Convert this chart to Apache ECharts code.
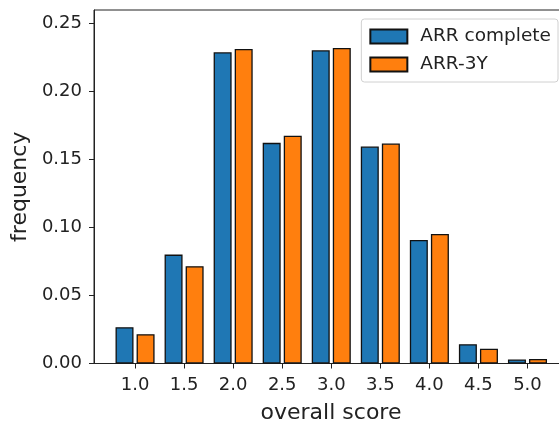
<!DOCTYPE html>
<html>
<head>
<meta charset="utf-8">
<script src="https://cdn.jsdelivr.net/npm/echarts@6/dist/echarts.min.js"></script>
<style>
html, body { margin: 0; padding: 0; background: #fff; overflow: hidden; }
#chart { width: 568px; height: 421px; }
</style>
</head>
<body>
<div id="chart"></div>
<script>
// overall score categories
var scores = [1.0, 1.5, 2.0, 2.5, 3.0, 3.5, 4.0, 4.5, 5.0];
var arrComplete = [0.0267, 0.0801, 0.2289, 0.1623, 0.2304, 0.1596, 0.0909, 0.0142, 0.0029];
var arr3Y = [0.0216, 0.0716, 0.2314, 0.1676, 0.2321, 0.1618, 0.0953, 0.0108, 0.0034];
var xTicks = [1.0, 1.5, 2.0, 2.5, 3.0, 3.5, 4.0, 4.5, 5.0];

var font = 'DejaVu Sans';

function pairs(vals) {
    return scores.map(function (s, i) { return [s, vals[i]]; });
}

var chart = echarts.init(document.getElementById('chart'));

var option = {
    animation: false,
    grid: {
        left: 94,
        right: 0,
        top: 10,
        bottom: 57.5,
        outerBoundsMode: 'none',
        containLabel: false,
        show: true,
        borderColor: '#222',
        borderWidth: 1
    },
    legend: {
        orient: 'vertical',
        right: 10,
        top: 19,
        icon: 'rect',
        itemWidth: 37,
        itemHeight: 14,
        itemGap: 9,
        padding: [8, 7, 8, 8],
        backgroundColor: 'rgba(255,255,255,0.8)',
        borderColor: '#d0d0d0',
        borderWidth: 1,
        borderRadius: 3,
        textStyle: { fontFamily: font, fontSize: 18.5, color: '#222', padding: [0, 0, 0, 8] },
        data: ['ARR complete', 'ARR-3Y']
    },
    xAxis: {
        type: 'value',
        min: 0.5816,
        max: 5.413,
        name: 'overall score',
        nameLocation: 'middle',
        nameGap: 39,
        nameTextStyle: { fontFamily: font, fontSize: 22, color: '#222' },
        splitLine: { show: false },
        axisLine: { show: true, lineStyle: { color: '#222' } },
        axisTick: { show: true, length: 5, customValues: xTicks, lineStyle: { color: '#222' } },
        axisLabel: {
            customValues: xTicks,
            margin: 13,
            fontFamily: font, fontSize: 18, color: '#222',
            formatter: function (v) { return v.toFixed(1); }
        }
    },
    yAxis: {
        type: 'value',
        min: 0,
        max: 0.26,
        interval: 0.05,
        name: 'frequency',
        nameLocation: 'middle',
        nameGap: 62,
        nameTextStyle: { fontFamily: font, fontSize: 22, color: '#222' },
        splitLine: { show: false },
        axisLine: { show: true, lineStyle: { color: '#222' } },
        axisTick: { show: true, length: 5, lineStyle: { color: '#222' } },
        axisLabel: {
            margin: 12,
            fontFamily: font, fontSize: 18, color: '#222',
            formatter: function (v) { return v.toFixed(2); }
        }
    },
    series: [{
        name: 'ARR complete',
        type: 'bar',
        barWidth: 18,
        barGap: '17%',
        itemStyle: { color: '#1f77b4', borderColor: '#111', borderWidth: 1.3 },
        data: pairs(arrComplete)
    }, {
        name: 'ARR-3Y',
        type: 'bar',
        barWidth: 18,
        barGap: '17%',
        itemStyle: { color: '#ff7f0e', borderColor: '#111', borderWidth: 1.3 },
        data: pairs(arr3Y)
    }]
};

chart.setOption(option);
</script>
</body>
</html>
